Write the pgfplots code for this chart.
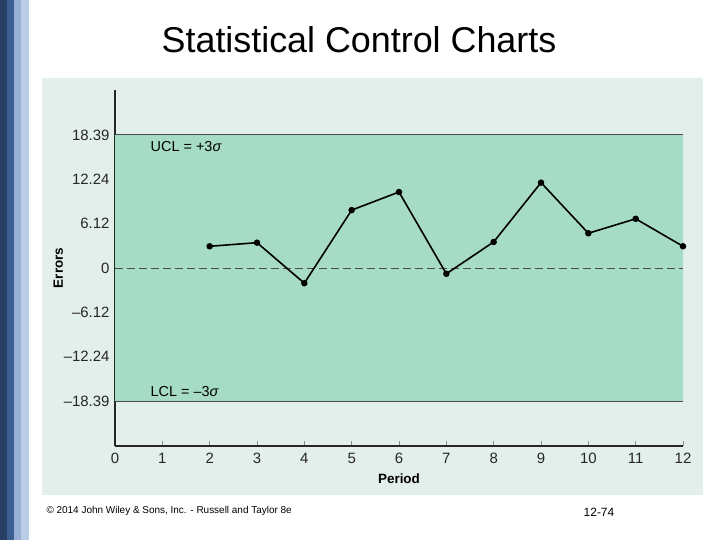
\documentclass[border=0pt]{standalone}
\usepackage{pgfplots}
\pgfplotsset{compat=1.18}
\usepackage{fontspec}
\setmainfont{Liberation Sans}

\definecolor{navy}{HTML}{263F63}
\definecolor{midblue}{HTML}{3B5F91}
\definecolor{lightblue}{HTML}{98B0D6}
\definecolor{paleblue}{HTML}{B9CCE5}
\definecolor{panel}{HTML}{E3EFEB}
\definecolor{band}{HTML}{A6DBC6}

\begin{document}
\begin{tikzpicture}
	% slide background, stripes and panel
	\path[fill=white, use as bounding box] (0,0) rectangle (720bp,540bp);
	\fill[navy] (0,0) rectangle (7bp,540bp);
	\fill[midblue] (7bp,0) rectangle (14bp,540bp);
	\fill[lightblue] (14bp,0) rectangle (21bp,540bp);
	\fill[paleblue] (21bp,0) rectangle (29bp,540bp);
	\fill[panel] (42bp,45bp) rectangle (703bp,462bp);
	
	\node[font=\fontsize{36}{40}\selectfont] at (359bp,500bp) {Statistical Control Charts};
	
	\begin{axis}[at={(115bp,94bp)}, anchor=south west,
		scale only axis, width=568bp, height=356bp,
		xmin=0, xmax=12, ymin=-24.6, ymax=24.6,
		clip=false,
		separate axis lines,
		axis x line=bottom, axis y line=left,
		axis line style={-, draw=black!85, line width=1.1bp},
		tick align=inside,
		major tick length=5bp,
		tick style={black!45, line width=0.9bp},
		xtick={0,1,2,3,4,5,6,7,8,9,10,11,12},
		ytick={-18.39,-12.24,-6.12,0,6.12,12.24,18.39},
		yticklabels={--18.39,--12.24,--6.12,0,6.12,12.24,18.39},
		/pgf/number format/assume math mode=true,
		ticklabel style={font=\fontsize{15}{17}\selectfont, text=black!85},
		yticklabel style={xshift=-2bp},
		xticklabel style={yshift=-4bp},
		xlabel={\textbf{Period}},
		ylabel={\textbf{Errors}},
		xlabel style={at={(axis description cs:0.5,-0.093)}, anchor=center, font=\fontsize{13.5}{15}\selectfont},
		ylabel style={at={(axis description cs:-0.1,0.5)}, anchor=center, font=\fontsize{13.5}{15}\selectfont},
		]
		
		% control band
		\addplot[draw=none, fill=band, forget plot] coordinates {
			(0,-18.39) (0,18.39) (12,18.39) (12,-18.39) (0,-18.39)
		};
		
		% UCL, LCL and centre line
		\addplot[black!70, line width=0.9bp] coordinates {(0,18.39) (12,18.39)};
		\addplot[black!70, line width=0.9bp] coordinates {(0,-18.39) (12,-18.39)};
		\addplot[black!70, line width=0.8bp, dash pattern=on 8bp off 4bp] coordinates {(0,0) (12,0)};
		
		% sample errors by period
		\addplot[black, line width=1.6bp, mark=*, mark size=2.4bp] coordinates {
			(2, 3.0)
			(3, 3.5)
			(4, -2.1)
			(5, 8.0)
			(6, 10.5)
			(7, -0.8)
			(8, 3.6)
			(9, 11.8)
			(10, 4.8)
			(11, 6.8)
			(12, 3.0)
		};
		
		\node[anchor=west, font=\fontsize{14.5}{16}\selectfont] at (axis cs:0.68,16.85) {UCL = +3\textit{σ}};
		\node[anchor=west, font=\fontsize{14.5}{16}\selectfont] at (axis cs:0.68,-17.1) {LCL = --3\textit{σ}};
	\end{axis}
	
	\node[anchor=west, font=\fontsize{10}{12}\selectfont] at (43bp,29bp) {\textcopyright{} 2014 John Wiley \& Sons, Inc. - Russell and Taylor 8e};
	\node[font=\fontsize{12}{14}\selectfont] at (599bp,28bp) {12-74};
\end{tikzpicture}
\end{document}
